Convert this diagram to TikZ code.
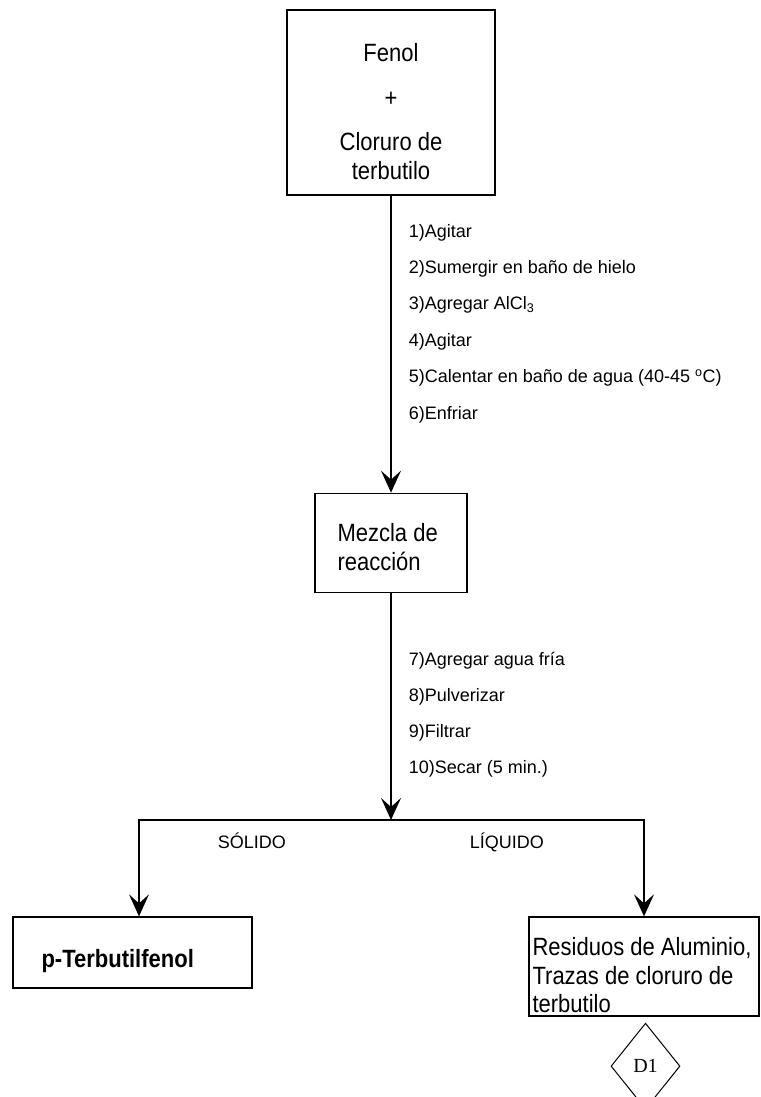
\documentclass[tikz,border=0pt]{standalone}
\usepackage{fontspec}
\setmainfont{Liberation Sans}
\newfontfamily\boxfont{Liberation Sans}[FakeStretch=0.88]
\newfontfamily\serifcode{Liberation Serif}
\usetikzlibrary{arrows.meta,positioning,shapes.geometric}
\tikzset{
    %Define standard arrow tip
    >={Stealth[length=22pt,width=20pt,inset=9pt]},
    %Define style for boxes
    proc/.style={
           rectangle,
           draw=black, line width=1.3pt,
           inner sep=0pt},
    boxtext/.style={
           inner sep=0pt,
           font=\boxfont\fontsize{25}{28.5}\selectfont},
    tag/.style={
           diamond,
           draw=black, line width=1pt,
           minimum width=69pt,
           minimum height=86pt,
           inner sep=0pt,
           font=\serifcode\fontsize{20}{24}\selectfont},
    steps/.style={
           anchor=west,
           align=left,
           inner sep=0pt,
           xshift=17pt},
    phase/.style={
           anchor=base,
           inner sep=0pt,
           yshift=-28.5pt,
           font=\fontsize{18}{22}\selectfont},
    % Define arrow style
    pil/.style={
           ->,
           line width=1.8pt}
}
\begin{document}
\begin{tikzpicture}[x=1pt,y=-1pt]
\useasboundingbox (0,0) rectangle (760,1097);
\node[proc, minimum width=208pt, minimum height=185pt] (mix) at (391,102.5) {};
\node[boxtext, align=center] (mixtxt) at ([yshift=-9pt]mix.center) {Fenol\\[16pt]+\\[16pt]Cloruro de\\terbutilo};
\node[proc, minimum width=152pt, minimum height=99pt, below=297pt of mix] (mezcla) {};
\node[boxtext, align=left, anchor=north west] (mezclatxt) at ([xshift=23pt,yshift=-31pt]mezcla.north west) {Mezcla de\\reacción};
\path[] (mix) edge[pil] node[steps, pos=.43, font=\fontsize{18}{36.4}\selectfont] {1)Agitar\\2)Sumergir en baño de hielo\\3)Agregar AlCl\textsubscript{3}\\4)Agitar\\5)Calentar en baño de agua (40-45 \textsuperscript{o}C)\\6)Enfriar} (mezcla);

\coordinate[below=227pt of mezcla] (split);
\coordinate[left=252pt of split] (solidturn);
\coordinate[right=253pt of split] (liqturn);
\path[] (mezcla) edge[pil] node[steps, pos=.537, font=\fontsize{18}{36}\selectfont] {7)Agregar agua fría\\8)Pulverizar\\9)Filtrar\\10)Secar (5 min.)} (split);

\node[proc, minimum width=239pt, minimum height=71pt] (prod) at (132.5,952.5) {};
\node[boxtext, anchor=base west, font=\boxfont\bfseries\fontsize{25}{28.5}\selectfont] (prodtxt) at ([xshift=29pt,yshift=-51pt]prod.north west) {p-Terbutilfenol};
\node[proc, minimum width=230pt, minimum height=99pt] (waste) at (644,966.5) {};
\node[boxtext, align=left, anchor=north west] (wastetxt) at ([xshift=4pt,yshift=-21pt]waste.north west) {Residuos de Aluminio,\\Trazas de cloruro de\\terbutilo};
\node[tag, below=6pt of waste, xshift=1.5pt] (d1) {D1};

\draw[pil] (split) -| node[phase, pos=.276] {SÓLIDO} (solidturn |- prod.north);
\draw[pil] (split) -| node[phase, pos=.229] {LÍQUIDO} (liqturn |- waste.north);
\end{tikzpicture}
\end{document}
